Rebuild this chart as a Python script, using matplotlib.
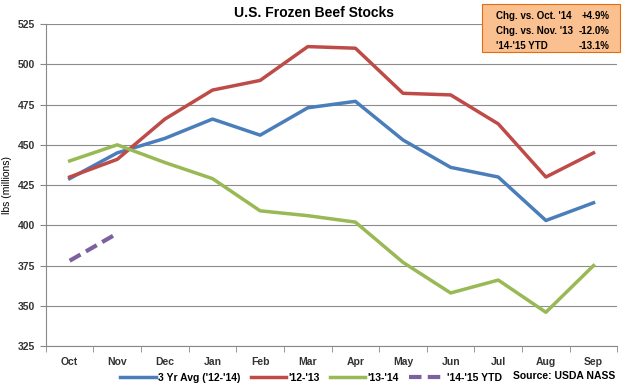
import numpy as np
import matplotlib.pyplot as plt

plt.rcParams['font.family'] = ['Liberation Sans Narrow', 'Liberation Sans', 'DejaVu Sans']

months = ['Oct', 'Nov', 'Dec', 'Jan', 'Feb', 'Mar', 'Apr', 'May', 'Jun', 'Jul', 'Aug', 'Sep']
avg_12_14 = [429, 445, 454, 466, 456, 473, 477, 453, 436, 430, 403, 414]
y_12_13 = [430, 441, 466, 484, 490, 511, 510, 482, 481, 463, 430, 445]
y_13_14 = [440, 450, 439, 429, 409, 406, 402, 377, 358, 366, 346, 375]
ytd_14_15 = [378, 395]

fig = plt.figure(figsize=(6.28, 3.88), dpi=100)
ax = fig.add_axes([0.073, 0.108, 0.91, 0.83])

x = np.arange(len(months))
ax.plot(x, avg_12_14, color='#4A7EBB', lw=2.5, label="3 Yr Avg ('12-'14)")
ax.plot(x, y_12_13, color='#BE4B48', lw=2.5, label="'12-'13")
ax.plot(x, y_13_14, color='#98B954', lw=2.5, label="'13-'14")
ax.plot(x[:len(ytd_14_15)], ytd_14_15, color='#7D60A0', lw=3, ls=(0, (3, 1.5)),
        label="'14-'15 YTD")

ax.set_xlim(-0.5, len(months) - 0.5)
ax.set_ylim(325, 525)
ax.set_yticks(np.arange(325, 526, 25))
ax.set_xticks(x)
ax.set_xticklabels(months)
ax.set_xticks(np.arange(-0.5, len(months), 1), minor=True)
ax.tick_params(axis='x', which='major', length=0, labelsize=7.5, pad=8)
ax.tick_params(axis='x', which='minor', length=4, color='#888888')
ax.tick_params(axis='y', labelsize=7.5, length=4, color='#888888')
for lbl in ax.get_xticklabels() + ax.get_yticklabels():
    lbl.set_fontweight('bold')
    lbl.set_color('#333333')
ax.grid(axis='y', color='#8c8c8c', lw=0.8)
ax.set_axisbelow(True)
for s in ['top', 'right']:
    ax.spines[s].set_visible(False)
ax.spines['left'].set_color('#888888')
ax.spines['bottom'].set_color('#888888')
ax.set_ylabel('lbs (millions)', fontsize=7.5)

fig.suptitle('U.S. Frozen Beef Stocks', fontsize=10, fontweight='bold', y=0.985)

fig.legend(loc='center left', bbox_to_anchor=(0.185, 0.027), ncol=4, borderaxespad=0,
           frameon=False, handlelength=3.4, columnspacing=1.0, handletextpad=0.2,
           prop={'weight': 'bold', 'size': 7.5})
fig.text(0.98, 0.022, 'Source: USDA NASS', ha='right', fontsize=7.5, fontweight='bold')

box_rows = [("Chg. vs. Oct. '14", '+4.9%'), ("Chg. vs. Nov. '13", '-12.0%'), ("'14-'15 YTD", '-13.1%')]
fig.patches.append(plt.Rectangle((0.768, 0.866), 0.219, 0.124, transform=fig.transFigure,
                                 facecolor='#FAC090', edgecolor='#E46C0A', lw=0.8))
for i, (k, v) in enumerate(box_rows):
    yy = 0.958 - i * 0.038
    fig.text(0.79, yy, k, fontsize=7, fontweight='bold', va='center')
    fig.text(0.97, yy, v, fontsize=7, fontweight='bold', va='center', ha='right')

fig.savefig('out.png', dpi=100)
